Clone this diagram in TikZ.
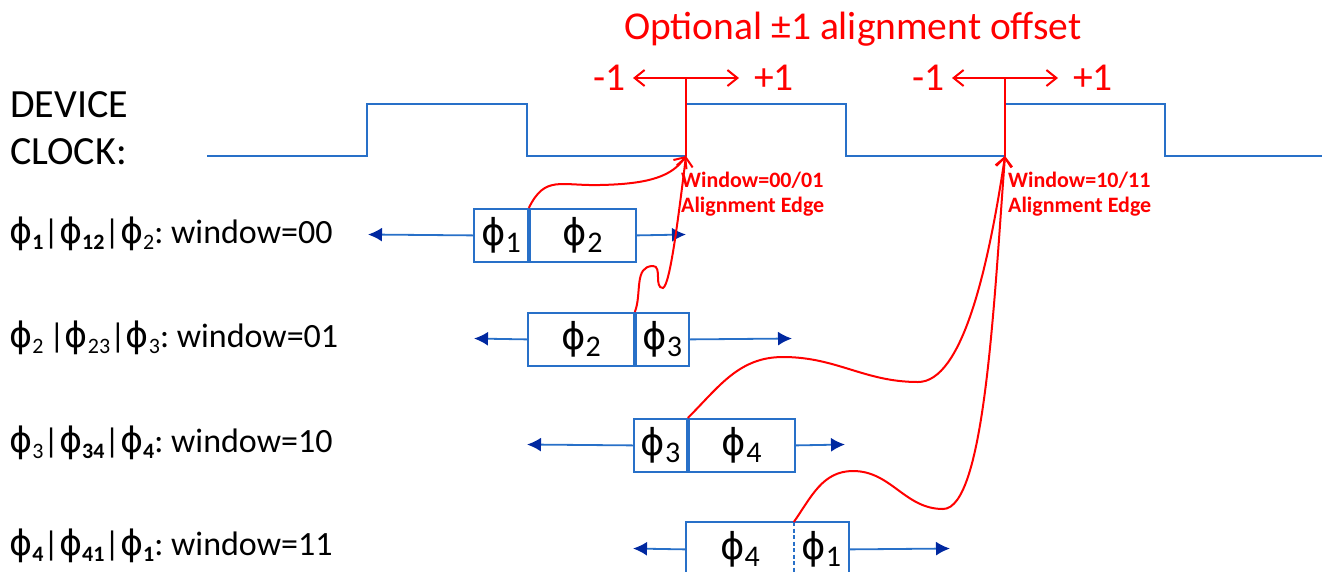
\documentclass[tikz,border=0pt]{standalone}
\usepackage{fontspec}
\setmainfont{Carlito}
\newfontfamily\phifont{DejaVu Sans}
\usetikzlibrary{arrows.meta}
\definecolor{clkblue}{RGB}{40,112,200}
\definecolor{boxblue}{RGB}{40,112,200}
\definecolor{headblue}{RGB}{0,40,160}
\definecolor{myred}{RGB}{255,0,0}
\newcommand\bph[1]{{\fontsize{37}{37}\selectfont\phifont ϕ}{\fontsize{30}{30}\selectfont\raisebox{-0.22em}{#1}}}
\newcommand\lph[1]{{\fontsize{35}{35}\selectfont\phifont ϕ}{\fontsize{22}{22}\selectfont\raisebox{-0.3em}{#1}}}
\tikzset{
  clk/.style={draw=clkblue, line width=2pt},
  cell/.style={draw=boxblue, line width=1.8pt, minimum height=53pt, inner sep=0pt, anchor=north west},
  barrow/.style={draw=boxblue, line width=1.8pt, -{Latex[length=14pt,width=14pt,color=headblue]}},
  redln/.style={draw=myred, line width=2pt},
  redarr/.style={draw=myred, line width=2pt, -{Straight Barb[length=9pt,width=16pt]}},
  dbl/.style={draw=myred, line width=2pt, {Straight Barb[length=10pt,width=16pt]}-{Straight Barb[length=10pt,width=16pt]}},
  rowlbl/.style={anchor=base west, inner sep=0pt, font=\fontsize{34}{34}\selectfont},
  redbig/.style={text=myred, inner sep=0pt, font=\fontsize{39.5}{39.5}\selectfont},
  edgelbl/.style={text=myred, inner sep=0pt, anchor=north west, align=left, font=\fontsize{22}{25}\selectfont\bfseries}
}
\begin{document}
\begin{tikzpicture}[x=1pt,y=-1pt]
\useasboundingbox (0,0) rectangle (1322,571);
% clock
\node[anchor=base west, inner sep=0pt, font=\fontsize{40}{40}\selectfont] (dev) at (10,117) {DEVICE};
\node[anchor=base west, inner sep=0pt, font=\fontsize{40}{40}\selectfont] (clkl) at (10,164) {CLOCK:};
\draw[clk] (207,156) -- (367,156) -- (367,104) -- (527,104) -- (527,156) -- (686,156) -- (686,104) -- (846,104) -- (846,156) -- (1005,156) -- (1005,104) -- (1165,104) -- (1165,156) -- (1322,156);
\coordinate (e1) at (686,156);
\coordinate (e2) at (1005,156);
% title and offsets
\node[redbig, anchor=base] (title) at (853,39) {Optional ±1 alignment offset};
\coordinate (t1) at (686,78);
\coordinate (t2) at (1005,78);
\coordinate (l1) at (633,78);
\coordinate (r1) at (739,78);
\coordinate (l2) at (952,78);
\coordinate (r2) at (1058,78);
\draw[redln] (t1) -- (e1);
\draw[redln] (t2) -- (e2);
\draw[dbl] (l1) -- (r1);
\draw[dbl] (l2) -- (r2);
\node[redbig, anchor=base east] (m1) at (626,90) {-1};
\node[redbig, anchor=base west] (p1) at (754,90) {+1};
\node[redbig, anchor=base east] (m2) at (945,90) {-1};
\node[redbig, anchor=base west] (p2) at (1073,90) {+1};
\node[edgelbl] (w1) at (681,172) {Window=00/01\\Alignment Edge};
\node[edgelbl] (w2) at (1008,172) {Window=10/11\\Alignment Edge};
% row labels
\node[rowlbl] (L1) at (9,243) {\lph{\textbf{1}}|\lph{\textbf{12}}|\lph{2}:\ window=00};
\node[rowlbl] (L2) at (9,347) {\lph{2}\,|\lph{23}|\lph{3}:\ window=01};
\node[rowlbl] (L3) at (9,452) {\lph{3}|\lph{\textbf{34}}|\lph{\textbf{4}}:\ window=10};
\node[rowlbl] (L4) at (9,555) {\lph{\textbf{4}}|\lph{\textbf{41}}|\lph{\textbf{1}}:\ window=11};
% row 1
\node[cell, minimum width=54pt] (b1a) at (473,208) {\bph{1}};
\node[cell, minimum width=106pt] (b1b) at (b1a.north east) {\bph{2}};
\coordinate (a1l) at (368,234.5);
\coordinate (a1r) at (686,234.5);
\draw[barrow] (b1a.west) -- (a1l);
\draw[barrow] (b1b.east) -- (a1r);
% row 2
\node[cell, minimum width=106pt] (b2a) at (527,312) {\bph{2}};
\node[cell, minimum width=53pt] (b2b) at (b2a.north east) {\bph{3}};
\coordinate (a2l) at (474,338.5);
\coordinate (a2r) at (792,338.5);
\draw[barrow] (b2a.west) -- (a2l);
\draw[barrow] (b2b.east) -- (a2r);
% row 3
\node[cell, minimum width=53pt] (b3a) at (633,418) {\bph{3}};
\node[cell, minimum width=106pt] (b3b) at (b3a.north east) {\bph{4}};
\coordinate (a3l) at (527,444.5);
\coordinate (a3r) at (845,444.5);
\draw[barrow] (b3a.west) -- (a3l);
\draw[barrow] (b3b.east) -- (a3r);
% row 4
\node[cell, minimum width=106pt, draw=none] (b4a) at (686,522) {\bph{4}};
\node[cell, minimum width=53pt, draw=none] (b4b) at (b4a.north east) {\bph{1}};
\draw[draw=boxblue, line width=1.8pt] (b4a.north east) -- (b4a.north west) -- (b4a.south west) -- (b4b.south east) -- (b4b.north east) -- (b4a.north east);
\draw[draw=boxblue, line width=1.5pt, dash pattern=on 4pt off 2.5pt] (b4a.north east) -- (b4a.south east);
\coordinate (a4l) at (633,548.5);
\coordinate (a4r) at (950,548.5);
\draw[barrow] (b4a.west) -- (a4l);
\draw[barrow] (b4b.east) -- (a4r);
% red curves
\draw[redarr] (b1a.north east) .. controls (545,175) and (560,186) .. (600,185) .. controls (650,184) and (672,176) .. (e1);
\draw[redarr] (b2a.north east) to[out=68,in=180] (653,266) to[out=0,in=180] (663,288) .. controls (670,285) and (678,220) .. (e1);
\draw[redarr] (b3a.north east) to[out=45,in=180] (783,357) to[out=0,in=180] (918,382) .. controls (962,382) and (988,270) .. (e2);
\draw[redarr] (b4a.north east) to[out=55,in=180] (853,471) to[out=0,in=180] (943,509) .. controls (985,509) and (994,300) .. (e2);
\end{tikzpicture}
\end{document}
